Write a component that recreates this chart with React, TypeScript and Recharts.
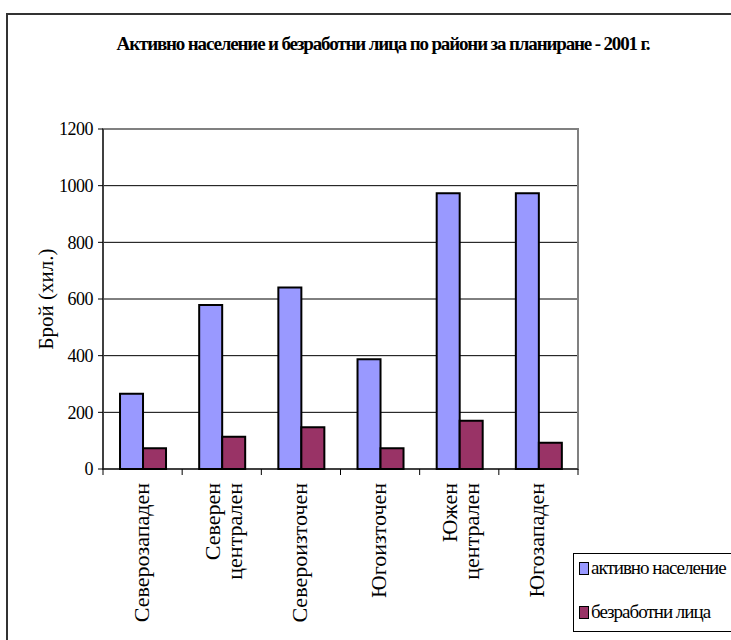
import React from 'react';
import { BarChart, Bar, XAxis, YAxis, CartesianGrid, Legend, ReferenceArea } from 'recharts';

const regions = ['Северозападен', 'Северен\nцентрален', 'Североизточен', 'Югоизточен', 'Южен\nцентрален', 'Югозападен'];
const activePopulation = [266, 579, 641, 387, 973, 973];
const unemployed = [73, 114, 147, 73, 170, 93];
const yTicks = [0, 200, 400, 600, 800, 1000, 1200];

const data = regions.map((region, i) => ({
  region,
  active: activePopulation[i],
  unemployed: unemployed[i],
}));

const FONT = '"Liberation Serif", "Times New Roman", serif';

// category labels: rotated, ticks sit on the category boundaries like in Excel
const XTick = (props: any) => {
  const { x, y, payload, index } = props;
  const half = payload.offset || 39.6;
  const lines = String(payload.value).split('\n');
  const n = lines.length;
  const ty = y + 14;
  return (
    <g>
      <line x1={x - half} y1={y} x2={x - half} y2={y + 6} stroke="#000" />
      {index === regions.length - 1 && <line x1={x + half} y1={y} x2={x + half} y2={y + 6} stroke="#000" />}
      {lines.map((line, i) => {
        const bx = x + 6 + (i - (n - 1) / 2) * 22 + (n - 1) * 3;
        return (
          <text key={i} x={bx} y={ty} transform={`rotate(-90 ${bx} ${ty})`} textAnchor="end"
            fontFamily={FONT} fontSize={22} fill="#000">
            {line}
          </text>
        );
      })}
    </g>
  );
};

const LegendBox = ({ payload }: any) => (
  <div style={{ border: '1px solid #000', width: 170, height: 79, boxSizing: 'border-box', paddingTop: 3, paddingLeft: 5,
    fontFamily: FONT, fontSize: 19, letterSpacing: -1, color: '#000' }}>
    {(payload || []).map((p: any, i: number) => (
      <div key={i} style={{ display: 'flex', alignItems: 'center', height: 22, marginBottom: 22 }}>
        <span style={{ width: 8, height: 11, background: p.color, border: '1.5px solid #000', marginRight: 2 }} />
        <span>{p.value}</span>
      </div>
    ))}
  </div>
);

export default function App() {
  return (
    <div style={{ position: 'absolute', left: 0, top: 0, width: 731, height: 640, overflow: 'hidden', background: '#fff' }}>
      <div style={{ position: 'absolute', left: 6, top: 13, width: 800, height: 700, borderTop: '2px solid #333', borderLeft: '2px solid #333' }} />
      <div style={{ position: 'absolute', left: 0, top: 33, width: 766, textAlign: 'center', fontFamily: FONT, fontWeight: 'bold',
        fontSize: 19, lineHeight: '22px', letterSpacing: -1.15 }}>
        Активно население и безработни лица по райони за планиране - 2001 г.
      </div>
      <svg style={{ position: 'absolute', left: 0, top: 0 }} width={731} height={640}>
        <text x={53} y={299} transform="rotate(-90 53 299)" textAnchor="middle" fontFamily={FONT} fontSize={21}>
          Брой (хил.)
        </text>
      </svg>
      <div style={{ position: 'absolute', left: 0, top: 0 }}>
        <BarChart width={731} height={640} data={data} margin={{ top: 129, right: 153, bottom: 0, left: 43 }}
          barCategoryGap="21.5%" barGap={0}>
          <CartesianGrid vertical={false} stroke="#000" />
          <ReferenceArea y1={0} y2={1200} fill="none" stroke="#808080" strokeWidth={2} />
          <XAxis dataKey="region" height={171} axisLine={{ stroke: '#000' }} tickLine={false} tickSize={0} tickMargin={0}
            interval={0} tick={<XTick />} />
          <YAxis domain={[0, 1200]} ticks={yTicks} width={60} axisLine={{ stroke: '#000' }} tickLine={{ stroke: '#000' }}
            tickSize={5} tickMargin={5} tick={{ fill: '#000', fontFamily: FONT, fontSize: 18, letterSpacing: -0.5 }} />
          <Legend layout="vertical" align="center" verticalAlign="middle" content={<LegendBox />}
            wrapperStyle={{ position: 'absolute', left: 573, top: 553, width: 170, height: 79 }} />
          <Bar dataKey="active" name="активно население" fill="#9999FF" stroke="#000" strokeWidth={2} isAnimationActive={false} />
          <Bar dataKey="unemployed" name="безработни лица" fill="#993366" stroke="#000" strokeWidth={2} isAnimationActive={false} />
        </BarChart>
      </div>
    </div>
  );
}
